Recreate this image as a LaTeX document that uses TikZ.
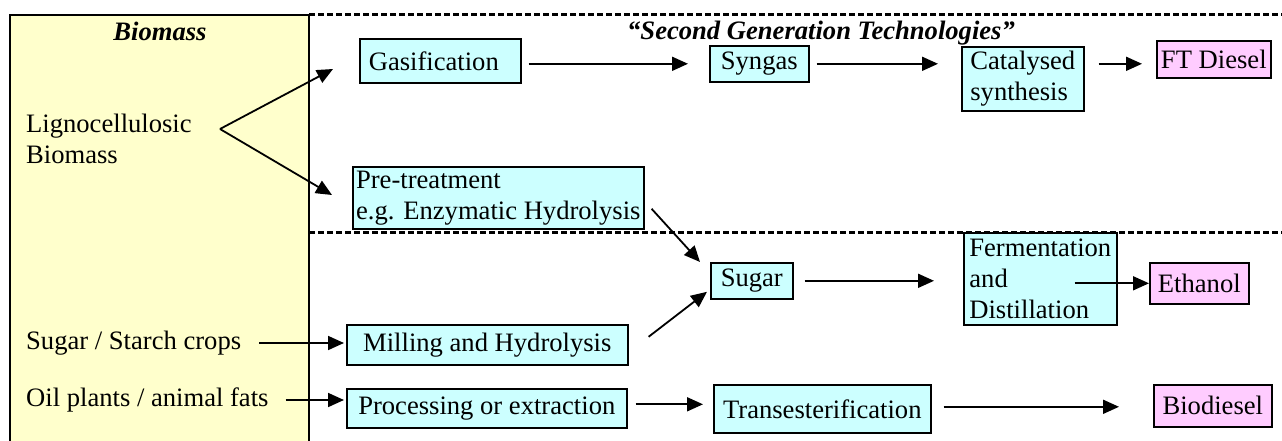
\documentclass[tikz,border=0pt]{standalone}
\usepackage{fontspec}
\setmainfont{Liberation Serif}
\usetikzlibrary{arrows.meta}
\definecolor{procfill}{HTML}{CCFFFF}
\definecolor{fuelfill}{HTML}{FFCCFF}
\definecolor{feedfill}{HTML}{FFFFCC}
\tikzset{stagebox/.style={draw,fill=procfill,line width=1.6pt,inner sep=0pt,anchor=north west,align=left},
         fuelbox/.style={stagebox,fill=fuelfill},
         flow/.style={line width=1.8pt,-{Triangle[length=16pt,width=14pt]}},
         divider/.style={line width=3pt,dash pattern=on 6pt off 3pt}}
\newcommand{\stage}[6][]{\node[stagebox,minimum width=#4pt,minimum height=#5pt,#1] at (#2) (#3) {#6}}

\begin{document}
\fontsize{26.6pt}{31pt}\selectfont
\begin{tikzpicture}[x=1pt,y=-1pt]
  \useasboundingbox (0,0) rectangle (1282,441);
  \fill[feedfill] (10,15) rectangle (309,441);
  \draw[line width=2pt] (10,441) |- (309,15) -- (309,441);
  \draw[divider] (309,15)  -- (1282,15);
  \draw[divider] (309,232) -- (1282,232);

  \node[anchor=base,font=\bfseries\itshape] (feedtitle) at (160,41) {Biomass};
  \node[anchor=base,font=\bfseries\itshape] (gentitle)  at (821,40) {“Second Generation Technologies”};

  \node[anchor=west,inner sep=0pt,align=left] (ligno) at (26,139) {Lignocellulosic\\Biomass};
  \node[anchor=west,inner sep=0pt] (crops) at (26,343) {Sugar / Starch crops};
  \node[anchor=west,inner sep=0pt] (oils)  at (26,400) {Oil plants / animal fats};

  \stage[text width=143pt]{359,38}{gas}{161}{44}{Gasification};
  \stage{709,45}{syn}{99}{36}{Syngas};
  \stage{961,46}{cat}{122}{64}{Catalysed\\synthesis};
  \stage[fuelbox]{1156,40}{ftd}{114}{37}{FT Diesel};
  \stage{352,166}{pre}{291}{62}{Pre-treatment\\e.g. Enzymatic Hydrolysis};
  \stage{710,262}{sug}{82}{36}{Sugar};
  \stage{963,232}{fer}{153}{92}{Fermentation\\and\\Distillation};
  \stage[fuelbox]{1149,262}{eth}{99}{41}{Ethanol};
  \stage{346,324}{mil}{281}{40}{Milling and Hydrolysis};
  \stage{346,388}{pro}{280}{39}{Processing or extraction};
  \stage{713,384}{tra}{217}{48}{Transesterification};
  \stage[fuelbox]{1153,384}{bio}{118}{42}{Biodiesel};

  \coordinate (fork)  at (220,129);
  \coordinate (gasin) at (333,69);
  \coordinate (prein) at (332,195);
  \draw[flow] (fork) -- (gasin);
  \draw[flow] (fork) -- (prein);

  \draw[flow] ([xshift=7pt]gas.east |- syn.west) -- ([xshift=-21pt]syn.west);
  \draw[flow] ([xshift=7pt]syn.east) -- ([xshift=-23pt]syn.east -| cat.west);
  \draw[flow] ([xshift=14pt]cat.east |- syn.east) -- ([xshift=-14pt]ftd.west |- syn.east);

  \draw[flow] ([shift={(7pt,-11pt)}]pre.east) -- ([xshift=-10pt]sug.north west);
  \draw[flow] ([shift={(20pt,8pt)}]mil.east) -- ([shift={(-3pt,-11pt)}]sug.west);
  \draw[flow] ([xshift=11pt]sug.east) -- ([xshift=-29pt]sug.east -| fer.west);
  \draw[flow] ([xshift=-43pt]fer.east |- eth.west) -- (eth.west);

  \draw[flow] ([xshift=18pt]crops.east) -- ([xshift=-2pt]crops.east -| mil.west);
  \draw[flow] ([xshift=17pt]oils.east) -- ([xshift=-2pt]oils.east -| pro.west);
  \draw[flow] ([shift={(8pt,4pt)}]pro.east) -- ([shift={(-10pt,4pt)}]pro.east -| tra.west);
  \draw[flow] ([shift={(12pt,2pt)}]tra.east) -- ([shift={(-34pt,2pt)}]tra.east -| bio.west);
\end{tikzpicture}
\end{document}
